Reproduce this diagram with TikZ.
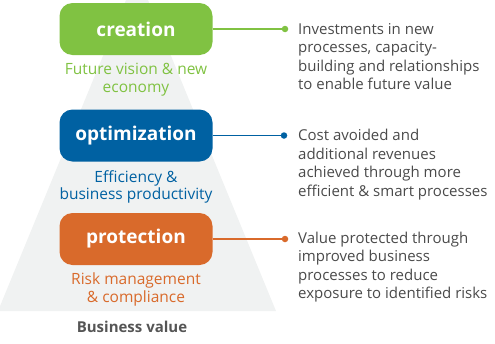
\documentclass[tikz,border=0pt]{standalone}
\usepackage{fontspec}
\setmainfont{Open Sans}
\usetikzlibrary{positioning}
\definecolor{ValGreen}{HTML}{80C242}
\definecolor{ValBlue}{HTML}{0061A2}
\definecolor{ValOrange}{HTML}{D96A2B}
\definecolor{ValGrey}{HTML}{F0F2F2}
\definecolor{ValText}{HTML}{4A4A4A}
\definecolor{ValLabel}{HTML}{555555}

\begin{document}
\begin{tikzpicture}[x=1pt,y=-1pt,
    tier/.style={rounded corners=13pt,minimum width=153pt,minimum height=52pt,
      text=white,font=\fontsize{19}{22}\selectfont\bfseries},
    sub/.style={align=center,inner sep=0pt,font=\fontsize{15.5}{17.5}\selectfont},
    desc/.style={align=left,anchor=north west,inner sep=0pt,text=ValText,
      font=\fontsize{15}{18.5}\selectfont},
    dot/.style={circle,inner sep=0pt,minimum size=6.5pt},
    link/.style={line width=1.6pt}]
    \useasboundingbox (0,0) rectangle (495,343);
    % grey pyramid behind the three tiers
    \fill[ValGrey] (126,0) -- (148,0) -- (276,311) -- (-2,311) -- cycle;
    % tiers
    \node[tier,fill=ValGreen] (creation) at (136,29) {creation};
    \node[tier,fill=ValBlue] (optim) at (136,135.5) {optimization};
    \node[tier,fill=ValOrange] (protect) at (136,239) {protection};
    \node[sub,text=ValGreen,anchor=north] (creationsub) at (136,63) {Future vision \& new\\economy};
    \node[sub,text=ValBlue,anchor=north] (optimsub) at (136,170) {Efficiency \&\\business productivity};
    \node[sub,text=ValOrange,anchor=north] (protectsub) at (136,273) {Risk management\\\& compliance};
    \node[font=\fontsize{15}{17}\selectfont\bfseries,text=ValLabel,inner sep=0pt] (bizvalue) at (132,327) {Business value};
    % links out to the descriptions
    \node[dot,fill=ValGreen] (creationdot) at (285,29) {};
    \node[dot,fill=ValBlue] (optimdot) at (284,135.5) {};
    \node[dot,fill=ValOrange] (protectdot) at (285,239) {};
    \draw[link,ValGreen] (creation.east) -- (creationdot);
    \draw[link,ValBlue] (optim.east) -- (optimdot);
    \draw[link,ValOrange] (protect.east) -- (protectdot);
    \node[desc] (creationtxt) at (298,23) {Investments in new\\processes, capacity-\\building and relationships\\to enable future value};
    \node[desc] (optimtxt) at (298,129) {Cost avoided and\\additional revenues\\achieved through more\\efficient \& smart processes};
    \node[desc] (protecttxt) at (298,231.5) {Value protected through\\improved business\\processes to reduce\\exposure to identified risks};
\end{tikzpicture}
\end{document}
